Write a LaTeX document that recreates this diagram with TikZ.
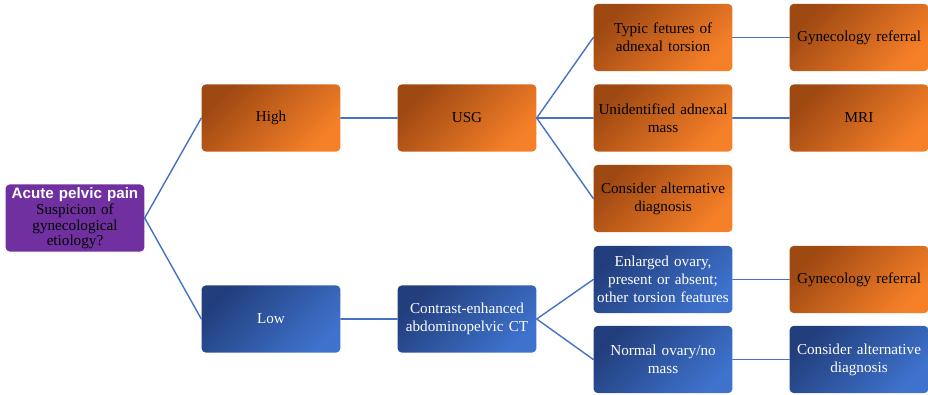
\documentclass[tikz,border=0pt]{standalone}
\usepackage{fontspec}
\setmainfont{Liberation Serif}
\newfontfamily\headfont{Liberation Sans}
\definecolor{linkblue}{RGB}{68,114,196}
\definecolor{orgdark}{RGB}{158,72,18}
\definecolor{orglight}{RGB}{246,128,40}
\definecolor{bludark}{RGB}{34,62,124}
\definecolor{blulight}{RGB}{62,114,204}
\definecolor{rootpurple}{RGB}{112,48,160}

\tikzset{
  box/.style={rounded corners=3pt,minimum width=3.45cm,minimum height=1.68cm,
    text width=3.4cm,align=center,inner sep=1pt,font=\fontsize{10.8}{12.8}\selectfont},
  orgbox/.style={box,top color=orgdark,bottom color=orglight,shading angle=45,text=black},
  blubox/.style={box,top color=bludark,bottom color=blulight,shading angle=45,text=white},
  link/.style={draw=linkblue,line width=1pt}
}

\begin{document}
\begin{tikzpicture}[line cap=round,line join=round]
  \useasboundingbox (0,0) rectangle (23.2,-9.875);
  % root
  \node[box,fill=rootpurple,text=black,font=\fontsize{10.8}{10.8}\selectfont] (pain) at (1.875,-5.45)
    {{\headfont\bfseries\color{white}\fontsize{10.8}{11}\selectfont Acute pelvic pain}\\[1pt]
     Suspicion of\\ gynecological\\ etiology?};
  % second level
  \node[orgbox] (high) at (6.775,-2.95) {High};
  \node[blubox] (low) at (6.775,-7.975) {Low};
  \node[orgbox] (usg) at (11.675,-2.95) {USG};
  \node[blubox] (ct) at (11.675,-7.975) {Contrast-enhanced\\abdominopelvic CT};
  % findings
  \node[orgbox] (torsion) at (16.575,-0.9375) {Typic fetures of\\adnexal torsion};
  \node[orgbox] (mass) at (16.575,-2.95) {Unidentified adnexal\\mass};
  \node[orgbox] (altusg) at (16.575,-4.9625) {Consider alternative\\diagnosis};
  \node[blubox] (ovary) at (16.575,-6.9875) {Enlarged ovary,\\present or absent;\\other torsion features};
  \node[blubox] (normal) at (16.575,-8.9875) {Normal ovary/no\\mass};
  % outcomes
  \node[orgbox] (gyn1) at (21.475,-0.9375) {Gynecology referral};
  \node[orgbox] (mri) at (21.475,-2.95) {MRI};
  \node[orgbox] (gyn2) at (21.475,-6.9875) {Gynecology referral};
  \node[blubox] (altct) at (21.475,-8.9875) {Consider alternative\\diagnosis};

  \foreach \a/\b in {pain/high,pain/low,high/usg,low/ct,usg/torsion,usg/mass,usg/altusg,
                     ct/ovary,ct/normal,torsion/gyn1,mass/mri,ovary/gyn2,normal/altct}{
    \draw[link] (\a.east) -- (\b.west);
  }
\end{tikzpicture}
\end{document}
